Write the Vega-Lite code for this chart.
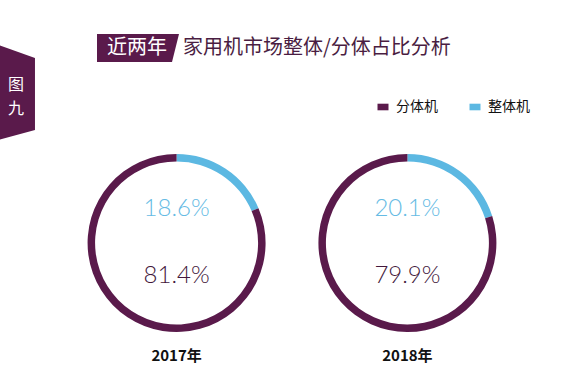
{
  "$schema": "https://vega.github.io/schema/vega-lite/v6.json",
  "width": 584,
  "height": 280,
  "autosize": {"type": "none"},
  "padding": {"top": 103, "left": 0, "right": 0, "bottom": 0},
  "background": "white",
  "config": {"view": {"stroke": null}},
  "layer": [
    {
      "data": {"values": [{}]},
      "mark": {"type": "point", "shape": "M-0.4,-1L0.368,-0.726L0.368,0.789L-0.4,1Z", "filled": true, "size": 9025, "color": "#5a1a4b", "opacity": 1, "strokeWidth": 0},
      "encoding": {"x": {"value": 17.5}, "y": {"value": -10.5}}
    },
    {
      "data": {"values": [{}]},
      "mark": {"type": "point", "shape": "M-1,-0.341L1,-0.341L0.83,0.341L-1,0.341Z", "filled": true, "size": 6724, "color": "#5a1a4b", "opacity": 1, "strokeWidth": 0},
      "encoding": {"x": {"value": 138}, "y": {"value": -55}}
    },
    {
      "data": {"values": [{}]},
      "mark": {"type": "text", "text": "近两年", "font": "Noto Sans CJK SC", "fontSize": 20, "color": "white", "align": "center", "baseline": "middle"},
      "encoding": {"x": {"value": 137}, "y": {"value": -55}}
    },
    {
      "data": {"values": [{}]},
      "mark": {"type": "text", "text": "家用机市场整体/分体占比分析", "font": "Noto Sans CJK SC", "fontSize": 20, "color": "#4a1d42", "align": "left", "baseline": "middle"},
      "encoding": {"x": {"value": 183}, "y": {"value": -55}}
    },
    {
      "data": {"values": [{}]},
      "mark": {"type": "text", "text": "图", "font": "Noto Sans CJK SC", "fontSize": 16, "color": "white", "align": "center", "baseline": "middle"},
      "encoding": {"x": {"value": 16}, "y": {"value": -18}}
    },
    {
      "data": {"values": [{}]},
      "mark": {"type": "text", "text": "九", "font": "Noto Sans CJK SC", "fontSize": 16, "color": "white", "align": "center", "baseline": "middle"},
      "encoding": {"x": {"value": 16}, "y": {"value": 6}}
    },
    {
      "data": {
        "values": [
          {"year": "2017年", "type": "整体机", "value": 18.6, "label": "18.6%", "order": 1},
          {"year": "2017年", "type": "分体机", "value": 81.4, "label": "81.4%", "order": 2},
          {"year": "2018年", "type": "整体机", "value": 20.1, "label": "20.1%", "order": 1},
          {"year": "2018年", "type": "分体机", "value": 79.9, "label": "79.9%", "order": 2}
        ]
      },
      "transform": [
        {"stack": "value", "groupby": ["year"], "sort": [{"field": "order", "order": "ascending"}], "as": ["v0", "v1"]}
      ],
      "layer": [
        {
          "mark": {"type": "arc", "outerRadius": 89, "innerRadius": 81.5, "strokeWidth": 0},
          "encoding": {
            "x": {"field": "year", "type": "nominal", "scale": {"type": "point", "padding": 0.765}, "axis": null},
            "theta": {"field": "v0", "type": "quantitative", "scale": {"domain": [0, 100]}},
            "theta2": {"field": "v1"},
            "color": {
              "field": "type",
              "type": "nominal",
              "scale": {"domain": ["分体机", "整体机"], "range": ["#5a1a4b", "#5cb8e2"]},
              "legend": {
                "orient": "none",
                "legendX": 376,
                "legendY": -3,
                "direction": "horizontal",
                "title": null,
                "symbolType": "M-1,-0.6H1V0.6H-1Z",
                "symbolSize": 121,
                "symbolStrokeWidth": 0,
                "labelFont": "Noto Sans CJK SC",
                "labelFontSize": 14,
                "labelColor": "#111111",
                "columnPadding": 30,
                "labelOffset": 6,
                "padding": 0
              }
            }
          }
        },
        {
          "transform": [{"filter": "datum.type == '整体机'"}],
          "mark": {"type": "text", "font": "Lato", "fontWeight": 300, "fontSize": 24, "color": "#66bbe4", "dy": -34, "baseline": "middle"},
          "encoding": {
            "x": {"field": "year", "type": "nominal"},
            "text": {"field": "label"}
          }
        },
        {
          "transform": [{"filter": "datum.type == '分体机'"}],
          "mark": {"type": "text", "font": "Lato", "fontWeight": 300, "fontSize": 24, "color": "#43183c", "dy": 33, "baseline": "middle"},
          "encoding": {
            "x": {"field": "year", "type": "nominal"},
            "text": {"field": "label"}
          }
        },
        {
          "transform": [{"filter": "datum.type == '分体机'"}],
          "mark": {"type": "text", "font": "Noto Sans CJK SC", "fontWeight": "bold", "fontSize": 15, "color": "#111111", "dy": 113, "baseline": "middle"},
          "encoding": {
            "x": {"field": "year", "type": "nominal"},
            "text": {"field": "year"}
          }
        }
      ]
    }
  ]
}
